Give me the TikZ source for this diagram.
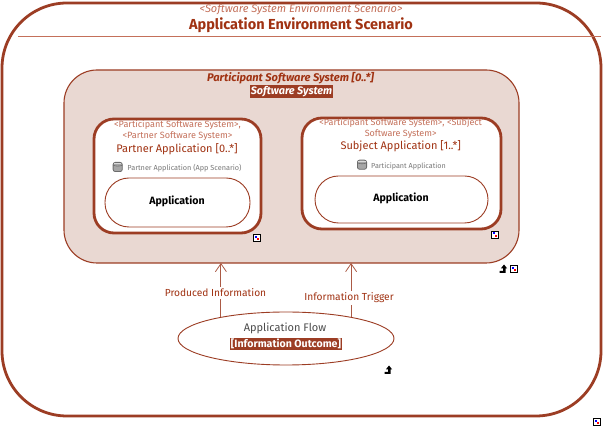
\documentclass[tikz,border=0pt]{standalone}
\usepackage{fontspec}
\setmainfont{Fira Sans}
\usetikzlibrary{shapes.geometric,arrows.meta}
\definecolor{rust}{HTML}{9C3D24}
\definecolor{titlec}{HTML}{A03212}
\definecolor{stereo}{HTML}{C4705A}
\definecolor{sand}{HTML}{E9D8D2}
\definecolor{grayt}{HTML}{777777}
\tikzset{
  x=1pt,y=-1pt,
  txt/.style={inner sep=0pt,outer sep=0pt,align=center},
  region/.style={draw=rust,rounded corners=#1,inner sep=0pt,outer sep=0pt},
  conn/.style={draw=rust!85,line width=0.9pt,-{Straight Barb[length=8pt,width=11pt,line width=0.8pt]}},
  tag/.style={fill=rust,text=white,inner sep=1pt,outer sep=0pt},
  pics/mark/.style={code={
    \draw[black,fill=white,line width=0.8pt] (-3.5,-3.5) rectangle (3.5,3.5);
    \fill[blue] (-2,-2) rectangle (0,0);
    \fill[red] (0.4,0.4) rectangle (2.4,2.4);
  }},
  pics/uparrow/.style={code={
    \fill[black] (-4.5,4) -- (-4.5,2) -- (-1,2) -- (-1,-0.5) -- (-3.2,-0.5) -- (0,-4.5) -- (3.2,-0.5) -- (1.5,-0.5) -- (1.5,4) -- cycle;
  }},
  pics/cyl/.style={code={
    \draw[draw=gray!85!black,fill=gray!70,line width=0.8pt,rounded corners=2.2pt] (-4.6,-4.6) rectangle (4.6,4.6);
    \draw[gray!85!black,line width=0.6pt] (-4.6,-1.8) .. controls (-2,-0.6) and (2,-0.6) .. (4.6,-1.8);
    \fill[gray!30] (-3.6,-3.8) rectangle (3.6,-2.6);
  }},
}
\begin{document}
\begin{tikzpicture}
\useasboundingbox (0,0) rectangle (603,427);
\fill[white] (0,0) rectangle (603,427);
% outer region
\node[region=65pt,line width=2.8pt,fill=white,minimum width=599pt,minimum height=413pt] (env) at (301.5,209.5) {};
\coordinate (hl) at (18,37);
\coordinate (hr) at (601,37);
\draw[stereo,line width=1pt] (hl) -- (hr);
\node[txt,text=stereo,font=\fontsize{11}{12}\selectfont\itshape] (envst) at (301,9.5) {<Software System Environment Scenario>};
\node[txt,text=titlec,font=\fontsize{14.5}{15}\selectfont\bfseries] (envt) at (301,25) {Application Environment Scenario};
% software system
\node[region=33pt,line width=1.1pt,fill=sand,minimum width=455pt,minimum height=193pt] (sys) at (291.5,166.5) {};
\node[txt,text=titlec,font=\fontsize{11.1}{12}\selectfont\itshape\bfseries] (syst) at (290.5,78) {Participant Software System [0..*]};
\node[tag,font=\fontsize{10.8}{11}\selectfont\itshape\bfseries] (systag) at (291.5,91.5) {Software System};
% partner
\node[region=20pt,line width=2.8pt,fill=white,minimum width=167pt,minimum height=114pt] (partner) at (177.5,176) {};
\node[txt,text=stereo,font=\fontsize{9.1}{11}\selectfont] (pst) at (177.5,130.5) {<Participant Software System>,\\<Partner Software System>};
\node[txt,text=titlec,font=\fontsize{11}{12}\selectfont] (pt) at (177,149) {Partner Application [0..*]};
\pic at (117.7,167) {cyl};
\node[txt,text=grayt,font=\fontsize{7.3}{9}\selectfont] (pr) at (184.5,168) {Partner Application (App Scenario)};
\node[region=24pt,line width=0.9pt,fill=white,minimum width=145pt,minimum height=49pt] (papp) at (177.5,202.5) {};
\node[txt,font=\fontsize{10.6}{11}\selectfont\bfseries] (pappt) at (177,201) {Application};
% subject
\node[region=20pt,line width=2.8pt,fill=white,minimum width=199pt,minimum height=111pt] (subject) at (401.5,173.5) {};
\node[txt,text=stereo,font=\fontsize{9}{11}\selectfont] (sst) at (400.7,128.5) {<Participant Software System>, <Subject\\Software System>};
\node[txt,text=titlec,font=\fontsize{11}{12}\selectfont] (st) at (400.7,146) {Subject Application [1..*]};
\pic at (362,164.7) {cyl};
\node[txt,text=grayt,font=\fontsize{7.2}{9}\selectfont] (sr) at (408.5,166) {Participant Application};
\node[region=23.5pt,line width=0.9pt,fill=white,minimum width=173pt,minimum height=47pt] (sapp) at (401.5,199.5) {};
\node[txt,font=\fontsize{10.6}{11}\selectfont\bfseries] (sappt) at (401,198) {Application};
% flow
\node[draw=rust,ellipse,line width=0.9pt,fill=white,inner sep=0pt,outer sep=0pt,minimum width=216pt,minimum height=53pt] (flow) at (286,338.5) {};
\node[txt,text=black!70,font=\fontsize{11}{12}\selectfont] (flowt) at (285,328) {Application Flow};
\node[tag,font=\fontsize{10.6}{12}\selectfont\bfseries] (flowtag) at (286,344) {[Information Outcome]};
% connectors
\draw[conn] (flow.162) -- (flow.162 |- sys.south);
\draw[conn] (flow.18) -- (flow.18 |- sys.south);
\node[txt,fill=white,inner ysep=2pt,text=titlec,font=\fontsize{10.2}{11}\selectfont] (l1) at (215.5,293) {Produced Information};
\node[txt,fill=white,inner ysep=2pt,text=titlec,font=\fontsize{10.2}{11}\selectfont] (l2) at (349,298) {Information Trigger};
% markers
\pic at (256.5,238) {mark};
\pic at (495,234.5) {mark};
\pic at (514,268.7) {mark};
\pic at (597,422) {mark};
\pic at (504,269) {uparrow};
\pic at (389,370) {uparrow};
\end{tikzpicture}
\end{document}
